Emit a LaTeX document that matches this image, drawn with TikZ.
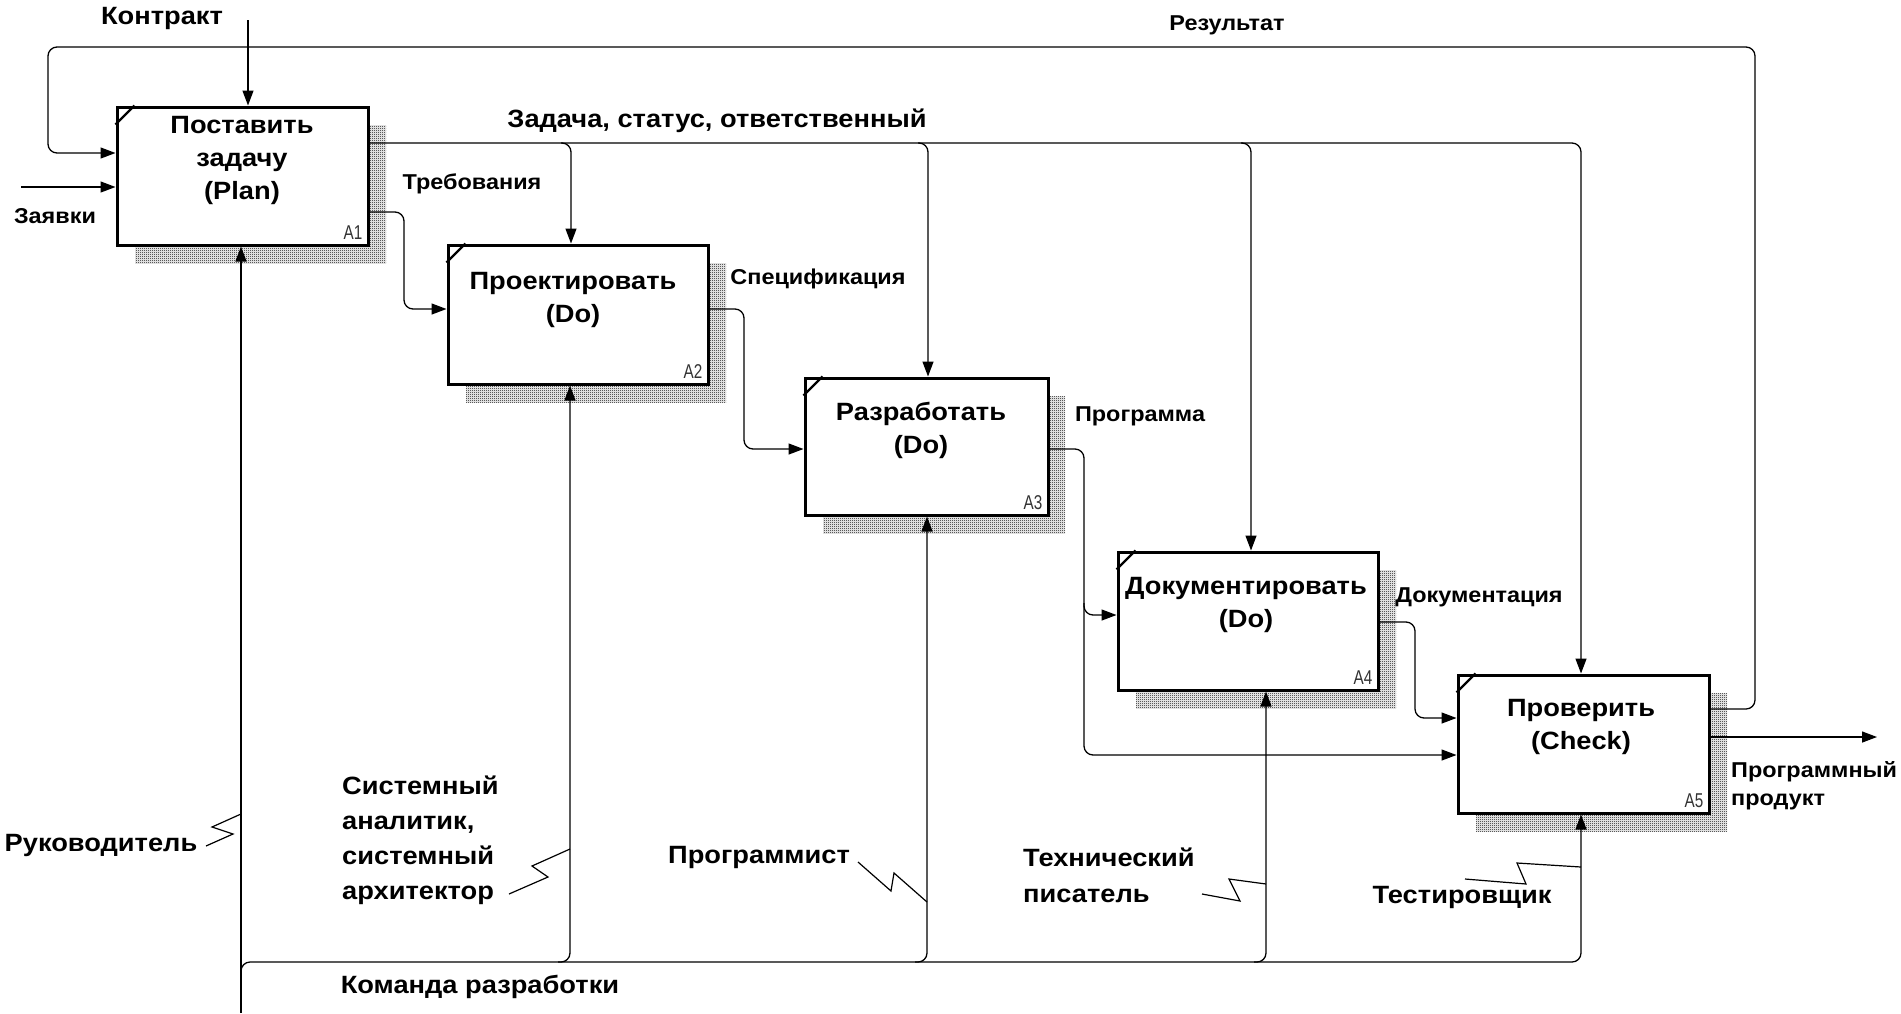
\documentclass[tikz,border=0pt]{standalone}
\usepackage{fontspec}
\setmainfont{Liberation Sans}[FakeStretch=1.09]
\usetikzlibrary{arrows.meta,patterns}
\pgfdeclarepatternformonly{finedither}{\pgfpointorigin}{\pgfpoint{2pt}{2pt}}{\pgfpoint{2pt}{2pt}}{%
  \pgfpathrectangle{\pgfpointorigin}{\pgfpoint{1pt}{1pt}}%
  \pgfpathrectangle{\pgfpoint{1pt}{1pt}}{\pgfpoint{1pt}{1pt}}%
  \pgfusepath{fill}}
\begin{document}
\begin{tikzpicture}[x=1pt,y=-1pt,
 line/.style={line width=1.3pt, rounded corners=9pt},
 arr/.style={line, -{Triangle[length=15pt,width=11pt]}},
 zig/.style={line width=1.2pt},
 box/.style={draw, line width=3pt, fill=white, inner sep=0pt},
 shadow/.style={pattern=finedither, pattern color=black},
 big/.style={font=\fontsize{25}{33}\selectfont\bfseries, inner sep=0pt},
 small/.style={font=\fontsize{21.5}{28}\selectfont\bfseries, inner sep=0pt},
 num/.style={font=\fontsize{20}{20}\selectfont, inner sep=0pt, text=black!80},
]
\useasboundingbox[fill=white] (0,0) rectangle (1901,1013);

% shadows
\fill[shadow] (135,125) rectangle (386,263);
\fill[shadow] (466,263) rectangle (726,402);
\fill[shadow] (823,396) rectangle (1065,533);
\fill[shadow] (1136,570) rectangle (1396,708);
\fill[shadow] (1476,693) rectangle (1727,831);

% boxes
\node[box, minimum width=251pt, minimum height=138pt] (A1) at (242.5,176) {};
\node[box, minimum width=260pt, minimum height=139pt] (A2) at (578,314.5) {};
\node[box, minimum width=243pt, minimum height=137pt] (A3) at (926.5,446.5) {};
\node[box, minimum width=260pt, minimum height=138pt] (A4) at (1248,621) {};
\node[box, minimum width=251pt, minimum height=138pt] (A5) at (1583.5,744) {};

\foreach \b in {A1,A2,A3,A4,A5}{
  \draw[line width=2.4pt] ([shift={(0,19)}]\b.north west) -- ([shift={(19,0)}]\b.north west);
  \node[num, anchor=south east] (\b n) at ([shift={(-7,-7)}]\b.south east) {\scalebox{0.7}[1]{\b}};
}

% box texts
\node[big, align=center] (A1t) at (242,160) {Поставить\\задачу\\(Plan)};
\node[big, align=center] (A2t) at (573,299.5) {Проектировать\\(Do)};
\node[big, align=center] (A3t) at (921,430) {Разработать\\(Do)};
\node[big, align=center] (A4t) at (1246,605) {Документировать\\(Do)};
\node[big, align=center] (A5t) at (1581,726.5) {Проверить\\(Check)};

% coordinates of free ends
\coordinate (kin) at (248,20);
\coordinate (zin) at (21,187);
\coordinate (pout) at (1877,737);
\coordinate (mbot) at (241,1013);

% Контракт
\draw[arr] (kin) -- (kin |- A1.north);
\node[big] (lk) at (162,18) {Контракт};

% Результат
\draw[arr] (A5.east |- 0,709) -- (1755,709) -- (1755,47) -- (48,47) -- (48,153) -- (A1.west |- 0,153);
\node[small] (lr) at (1227,25) {Результат};

% Заявки
\draw[arr] (zin) -- (A1.west |- zin);
\node[small] (lz) at (55,216) {Заявки};

% Задача, статус, ответственный
\draw[arr] (A1.east |- 0,143) -- (1581,143) -- (1581,0 |- A5.north);
\draw[arr] (561,143) -- (571,143) -- (571,0 |- A2.north);
\draw[arr] (918,143) -- (928,143) -- (928,0 |- A3.north);
\draw[arr] (1241,143) -- (1251,143) -- (1251,0 |- A4.north);
\node[big] (lt) at (717,121) {Задача, статус, ответственный};

% Требования
\draw[arr] (A1.east |- 0,212) -- (404,212) -- (404,309) -- (A2.west |- 0,309);
\node[small] (ltr) at (472,184) {Требования};

% Спецификация
\draw[arr] (A2.east |- 0,309) -- (744,309) -- (744,449) -- (A3.west |- 0,449);
\node[small] (ls) at (818,279) {Спецификация};

% Программа
\draw[arr] (A3.east |- 0,449) -- (1084,449) -- (1084,755) -- (A5.west |- 0,755);
\draw[arr] (1084,603) -- (1084,615) -- (A4.west |- 0,615);
\node[small] (lp) at (1140,416) {Программа};

% Документация
\draw[arr] (A4.east |- 0,622) -- (1415,622) -- (1415,718) -- (A5.west |- 0,718);
\node[small] (ld) at (1479,597) {Документация};

% Программный продукт
\draw[arr] (A5.east |- pout) -- (pout);
\node[small, align=left, anchor=west] (lpp) at (1731,786) {Программный\\продукт};

% Механизм: Команда разработки
\draw[arr] (mbot) -- (mbot |- A1.south);
\draw[arr] (241,974) -- (241,962) -- (1581,962) -- (1581,0 |- A5.south);
\draw[arr] (558,962) -- (570,962) -- (570,0 |- A2.south);
\draw[arr] (915,962) -- (927,962) -- (927,0 |- A3.south);
\draw[arr] (1254,962) -- (1266,962) -- (1266,0 |- A4.south);
\node[big] (lkr) at (480,987) {Команда разработки};

% исполнители
\node[big] (lruk) at (101,845) {Руководитель};
\draw[zig] (206,846) -- (233,834) -- (212,827) -- (241,814);

\node[font=\fontsize{25}{35}\selectfont\bfseries, inner sep=0pt, align=left, anchor=west] (lsa) at (342,840) {Системный\\аналитик,\\системный\\архитектор};
\draw[zig] (509,894) -- (548,877) -- (532,866) -- (570,849);

\node[big] (lpr) at (759,857) {Программист};
\draw[zig] (858,862) -- (891,891) -- (894,873) -- (927,902);

\node[font=\fontsize{25}{36}\selectfont\bfseries, inner sep=0pt, align=left, anchor=west] (ltp) at (1023,875) {Технический\\писатель};
\draw[zig] (1202,894) -- (1240,901) -- (1229,879) -- (1266,884);

\node[big] (lts) at (1462,897) {Тестировщик};
\draw[zig] (1465,879) -- (1526,884) -- (1517,863) -- (1581,867);
\end{tikzpicture}
\end{document}
